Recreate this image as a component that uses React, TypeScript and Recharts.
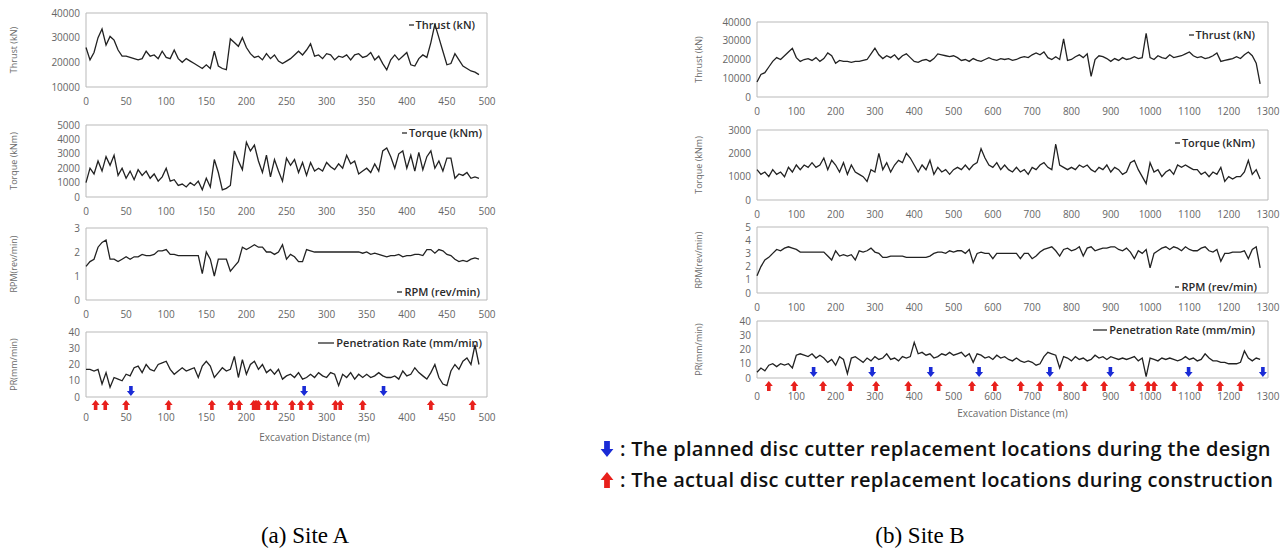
import React from 'react';
import { ComposedChart, Line, XAxis, YAxis, ReferenceArea, Scatter, Legend } from 'recharts';

// ---------------- Site A (0-500 m, sampled every 5 m) ----------------
const distA = Array.from({ length: 99 }, (_, i) => i * 5);
const thrustA = [
  26000, 21000, 24000, 30000, 33500, 27000, 30500, 29000, 25000, 22500,
  22500, 22000, 21500, 21000, 21500, 24500, 22500, 23000, 21500, 24500,
  22000, 21500, 25000, 21500, 20000, 21500, 20500, 19500, 18500, 17500,
  19000, 17500, 24500, 18500, 17500, 17000, 29500, 28000, 26500, 30000,
  26000, 23500, 22000, 22500, 21000, 23500, 21500, 23000, 20500, 19500,
  20500, 21500, 23000, 24500, 23000, 25000, 27500, 22500, 23000, 21500,
  23500, 23000, 21000, 22500, 22000, 23000, 21000, 23000, 23500, 22000,
  22500, 24000, 21000, 22500, 19500, 17000, 21000, 23000, 21000, 22500,
  24000, 19000, 18500, 21500, 23000, 22000, 28000, 35500, 30000, 24500,
  19000, 19500, 23500, 21000, 18500, 17500, 16500, 16000, 15000,
];
const torqueA = [
  1000, 2000, 1600, 2500, 1800, 2800, 2200, 2900, 1500, 2000,
  1300, 1800, 1200, 1900, 1500, 1800, 1300, 1600, 1100, 1400,
  2000, 1100, 1200, 800, 900, 700, 1000, 800, 1100, 500,
  1300, 700, 2600, 1700, 500, 600, 800, 3200, 2500, 1900,
  3800, 3200, 3600, 2500, 1700, 2900, 1400, 2600, 1800, 1100,
  2700, 2200, 2600, 1700, 2400, 1500, 2400, 1800, 2000, 1800,
  2400, 2100, 1900, 2300, 2000, 2900, 2300, 2500, 1600, 1800,
  2000, 1700, 2300, 1800, 3200, 3400, 2800, 2000, 3000, 3200,
  2000, 2900, 1800, 3100, 1900, 2800, 3200, 2000, 2500, 1800,
  2700, 2700, 1300, 1600, 1500, 1700, 1300, 1400, 1300,
];
const rpmA = [
  1.4, 1.6, 1.7, 2.2, 2.4, 2.5, 1.7, 1.7, 1.6, 1.7,
  1.8, 1.7, 1.8, 1.8, 1.9, 1.85, 1.85, 1.9, 2.05, 2.05,
  2.1, 1.9, 1.9, 1.85, 1.85, 1.85, 1.85, 1.85, 1.85, 1.1,
  2.0, 1.7, 1.0, 1.7, 1.7, 1.7, 1.2, 1.4, 1.6, 2.2,
  2.1, 2.2, 2.3, 2.2, 2.2, 2.0, 2.0, 1.9, 2.0, 2.3,
  1.7, 1.9, 1.8, 1.6, 1.6, 2.1, 2.05, 2.0, 2.0, 2.0,
  2.0, 2.0, 2.0, 2.0, 2.0, 2.0, 2.0, 2.0, 2.0, 1.95,
  2.0, 1.9, 1.95, 1.9, 1.85, 1.8, 1.85, 1.85, 1.9, 1.8,
  1.85, 1.85, 1.9, 1.9, 1.85, 2.1, 2.1, 1.95, 2.1, 2.05,
  1.9, 1.85, 1.7, 1.6, 1.65, 1.6, 1.7, 1.75, 1.7,
];
const prA = [
  17, 17, 16, 17, 8, 15, 6, 12, 11, 10,
  14, 13, 18, 19, 15, 20, 17, 16, 20, 21,
  22, 17, 14, 16, 18, 16, 17, 18, 12, 19,
  22, 19, 12, 15, 18, 16, 17, 25, 12, 23,
  14, 20, 22, 17, 20, 15, 17, 14, 17, 11,
  13, 14, 12, 15, 11, 12, 14, 12, 15, 13,
  12, 15, 14, 7, 14, 12, 15, 11, 14, 12,
  14, 12, 13, 15, 13, 12, 12, 13, 11, 16,
  13, 14, 18, 15, 13, 11, 15, 20, 12, 8,
  7, 16, 20, 17, 22, 24, 20, 32, 20,
];
const plannedA = [56, 272, 371];
const actualA = [12, 24, 50, 103, 157, 181, 191, 209, 211, 213, 215, 227, 236, 257, 268, 280, 311, 317, 345, 430, 482];
const ticksA = [0, 50, 100, 150, 200, 250, 300, 350, 400, 450, 500];

// ---------------- Site B (0-1300 m, sampled every 10 m) ----------------
const distB = Array.from({ length: 129 }, (_, i) => i * 10);
const thrustB = [
  8000, 12000, 13000, 16000, 19000, 21000, 20000, 22000, 24000, 26000,
  21000, 19000, 20000, 20500, 19500, 21000, 19000, 20500, 23500, 22000,
  18000, 19500, 19000, 19000, 18500, 19000, 19000, 19500, 20000, 23000,
  26000, 22500, 20500, 22000, 21000, 22500, 20000, 22000, 23000, 21000,
  19000, 18500, 19500, 20000, 19000, 20500, 23000, 22500, 22000, 21500,
  22000, 21000, 19500, 20000, 19000, 20500, 19500, 19000, 20000, 21000,
  20000, 19500, 20500, 20000, 20500, 19500, 20000, 21000, 21500, 21000,
  22500, 23500, 22500, 24000, 21000, 20000, 21500, 20000, 31000, 19500,
  20000, 21500, 22500, 21000, 23000, 11000, 20000, 22000, 21500, 20500,
  19000, 20500, 19500, 21000, 20000, 20500, 21500, 20500, 21000, 34000,
  21000, 20000, 22000, 21000, 20500, 22500, 21000, 21500, 22000, 23000,
  24000, 22000, 21000, 21500, 20500, 21000, 22000, 23500, 19000, 19500,
  20000, 20500, 21500, 20500, 22500, 24000, 22000, 18000, 7000,
];
const torqueB = [
  1300, 1100, 1200, 1000, 1300, 1100, 1200, 1000, 1400, 1200,
  1500, 1300, 1500, 1400, 1600, 1400, 1500, 1800, 1300, 1700,
  1500, 1200, 1600, 1100, 1500, 1200, 1100, 1000, 800, 1300,
  1200, 2000, 1300, 1600, 1200, 1500, 1700, 1600, 2000, 1800,
  1500, 1200, 1500, 1300, 1700, 1100, 1400, 1200, 1300, 1100,
  1300, 1400, 1300, 1500, 1300, 1500, 1600, 2200, 1800, 1500,
  1400, 1600, 1300, 1500, 1300, 1200, 1400, 1200, 1300, 1100,
  1400, 1300, 1500, 1600, 1400, 1300, 2400, 1500, 1400, 1300,
  1400, 1300, 1500, 1400, 1500, 1300, 1200, 1400, 1300, 1500,
  1200, 1400, 1300, 1100, 1200, 1600, 1700, 1300, 1000, 700,
  1600, 1200, 1300, 1000, 1200, 1300, 1100, 1500, 1400, 1500,
  1400, 1300, 1300, 1100, 1200, 1000, 1200, 1100, 1400, 800,
  1000, 900, 1000, 1000, 1200, 1700, 1100, 1300, 900,
];
const rpmB = [
  1.3, 2.0, 2.5, 2.7, 3.0, 3.3, 3.2, 3.4, 3.5, 3.4,
  3.3, 3.1, 3.1, 3.1, 3.1, 3.1, 3.1, 3.1, 2.8, 2.5,
  3.2, 2.8, 2.9, 2.8, 2.9, 2.5, 3.2, 3.1, 3.2, 3.4,
  3.1, 3.0, 2.7, 2.7, 2.8, 2.8, 2.8, 2.8, 2.7, 2.7,
  2.7, 2.7, 2.7, 2.7, 2.8, 3.0, 3.1, 3.1, 3.0, 3.2,
  3.1, 3.2, 3.2, 3.0, 3.3, 2.3, 3.0, 3.1, 3.0, 3.0,
  2.6, 3.0, 3.0, 3.0, 3.0, 3.0, 3.0, 2.6, 3.0, 3.0,
  2.6, 2.8, 3.1, 3.3, 3.4, 3.5, 3.2, 2.8, 3.3, 3.4,
  3.2, 3.3, 3.5, 2.8, 3.4, 3.5, 3.2, 3.3, 3.4, 3.4,
  3.5, 3.5, 3.3, 3.2, 3.4, 3.1, 2.6, 3.2, 3.0, 3.3,
  1.9, 3.0, 3.2, 3.4, 3.5, 3.3, 3.5, 3.4, 3.2, 3.5,
  3.3, 3.2, 3.2, 3.4, 3.5, 3.2, 3.1, 3.3, 2.4, 3.0,
  3.0, 3.1, 3.1, 3.1, 3.2, 2.6, 3.3, 3.5, 1.9,
];
const prB = [
  4, 7, 5, 9, 10, 8, 10, 9, 10, 7,
  16, 17, 16, 15, 17, 14, 16, 14, 11, 13,
  9, 15, 13, 3, 14, 15, 13, 11, 14, 12,
  15, 13, 14, 17, 13, 14, 12, 15, 14, 15,
  25, 17, 18, 16, 17, 14, 15, 17, 16, 18,
  16, 17, 18, 15, 17, 11, 17, 16, 14, 15,
  13, 16, 14, 15, 13, 12, 14, 12, 11, 12,
  11, 9, 10, 15, 18, 17, 16, 7, 15, 14,
  12, 15, 13, 14, 12, 13, 16, 14, 15, 13,
  15, 14, 13, 14, 13, 14, 15, 12, 14, 1,
  14, 13, 12, 14, 13, 14, 13, 12, 13, 15,
  13, 14, 12, 13, 17, 14, 12, 12, 11, 11,
  10, 10, 10, 11, 19, 14, 12, 14, 13,
];
const plannedB = [144, 293, 442, 565, 745, 899, 1098, 1287];
const actualB = [30, 95, 168, 237, 303, 385, 462, 547, 605, 671, 720, 771, 833, 883, 955, 995, 1010, 1061, 1127, 1178, 1230];
const ticksB = [0, 100, 200, 300, 400, 500, 600, 700, 800, 900, 1000, 1100, 1200, 1300];

const TICK_FONT = 'Open Sans, Noto Sans, sans-serif';
const BLUE = '#1a2bd6';
const RED = '#e8201c';

const downArrow = (x: number, y: number, s = 1) =>
  `M${x - 1.8 * s},${y - 5 * s} L${x + 1.8 * s},${y - 5 * s} L${x + 1.8 * s},${y} L${x + 4 * s},${y} L${x},${y + 5 * s} L${x - 4 * s},${y} L${x - 1.8 * s},${y} Z`;
const upArrow = (x: number, y: number, s = 1) =>
  `M${x - 1.8 * s},${y + 5 * s} L${x + 1.8 * s},${y + 5 * s} L${x + 1.8 * s},${y} L${x + 4 * s},${y} L${x},${y - 5 * s} L${x - 4 * s},${y} L${x - 1.8 * s},${y} Z`;

const PlannedShape = (props: any) => <path d={downArrow(props.cx, props.cy - 6)} fill={BLUE} />;
const ActualShape = (props: any) => <path d={upArrow(props.cx, props.cy + 8)} fill={RED} />;

type PanelProps = {
  boxL: number; boxT: number; boxW: number; boxH: number;
  padL: number; padB: number;
  xMax: number; xTicks: number[];
  yDomain: [number, number]; yTicks: number[];
  dist: number[]; values: number[];
  yTitle: string; yTitleX: number;
  legend: string; legendRight: number; legendTop: number; legendLine: number;
  tickMarginX: number;
  planned?: number[]; actual?: number[];
  xTitle?: string; xTitleDy?: number; xTitleDx?: number;
};

function Panel(p: PanelProps) {
  const padT = 10;
  const padR = 16;
  const width = p.padL + p.boxW + padR;
  const height = padT + p.boxH + p.padB;
  const data = p.dist.map((d, i) => ({ d, v: p.values[i] }));
  const yTitle = (lp: any) => {
    const vb = lp.viewBox;
    const cx = vb.x + p.yTitleX;
    const cy = vb.y + vb.height / 2;
    return (
      <text x={cx} y={cy} transform={`rotate(-90 ${cx} ${cy})`} textAnchor="middle" dominantBaseline="middle"
        fontSize={9} fill="#6b6b6b" fontFamily={TICK_FONT}>{p.yTitle}</text>
    );
  };
  const xTitle = (lp: any) => {
    const vb = lp.viewBox;
    return (
      <text x={vb.x + vb.width / 2 + (p.xTitleDx || 0)} y={vb.y + (p.xTitleDy || 0)} textAnchor="middle" dominantBaseline="middle"
        fontSize={10} fill="#6b6b6b" fontFamily={TICK_FONT}>{p.xTitle}</text>
    );
  };
  const legendContent = () => (
    <div style={{ display: 'flex', alignItems: 'center', whiteSpace: 'nowrap', fontFamily: TICK_FONT, fontSize: 11, fontWeight: 600, color: '#2a2a2a' }}>
      <svg width={p.legendLine + 2} height={6} style={{ marginRight: 1 }}>
        <line x1={1} y1={3} x2={p.legendLine + 1} y2={3} stroke="#2a2a2a" strokeWidth={1.3} />
      </svg>
      <span>{p.legend}</span>
    </div>
  );
  return (
    <div style={{ position: 'absolute', left: p.boxL - p.padL, top: p.boxT - padT }}>
      <ComposedChart width={width} height={height} data={data} margin={{ top: padT, right: padR, left: 0, bottom: 0 }}>
        <XAxis type="number" dataKey="d" domain={[0, p.xMax]} ticks={p.xTicks} interval={0}
          axisLine={false} tickLine={false} tickSize={0} tickMargin={p.tickMarginX} height={p.padB}
          tick={{ fontSize: 10, fill: '#666', fontFamily: TICK_FONT }}
          label={p.xTitle ? xTitle : undefined} />
        <YAxis type="number" domain={p.yDomain} ticks={p.yTicks} interval={0} width={p.padL}
          axisLine={false} tickLine={false} tickSize={0} tickMargin={6}
          tick={{ fontSize: 10, fill: '#666', fontFamily: TICK_FONT }}
          label={yTitle} />
        <ReferenceArea x1={0} x2={p.xMax} y1={p.yDomain[0]} y2={p.yDomain[1]} fill="none" fillOpacity={0}
          stroke="#b9b9b9" strokeWidth={1} ifOverflow="visible" />
        <Line type="linear" dataKey="v" stroke="#222" strokeWidth={1.3} dot={false} isAnimationActive={false} />
        {p.planned && (
          <Scatter data={p.planned.map((d) => ({ d, v: p.yDomain[0] }))} dataKey="v" shape={PlannedShape} isAnimationActive={false} />
        )}
        {p.actual && (
          <Scatter data={p.actual.map((d) => ({ d, v: p.yDomain[0] }))} dataKey="v" shape={ActualShape} isAnimationActive={false} />
        )}
        <Legend layout="horizontal" verticalAlign="middle" align="center" content={legendContent}
          wrapperStyle={{ left: 'auto', right: padR + p.legendRight, top: padT + p.legendTop - 8, width: 'auto', height: 'auto' }} />
      </ComposedChart>
    </div>
  );
}

export default function App() {
  const A = { boxL: 86, boxW: 401, padL: 86, yTitleX: 15, xMax: 500, xTicks: ticksA, dist: distA };
  const B = { boxL: 757, boxW: 511, padL: 70, yTitleX: 13, xMax: 1300, xTicks: ticksB, dist: distB };
  const keyText = { fontFamily: 'Open Sans, Noto Sans, sans-serif', fontSize: 20, fontWeight: 600, color: '#111', letterSpacing: 0.3 };
  return (
    <div style={{ position: 'absolute', left: 0, top: 0, width: 1285, height: 554, background: '#fff', overflow: 'hidden' }}>
      {/* Site A */}
      <Panel {...A} boxT={13} boxH={74} padB={26} tickMarginX={11}
        yDomain={[10000, 40000]} yTicks={[10000, 20000, 30000, 40000]} values={thrustA}
        yTitle="Thrust (kN)" legend="Thrust (kN)" legendRight={12} legendTop={12} legendLine={5} />
      <Panel {...A} boxT={125} boxH={72} padB={26} tickMarginX={11}
        yDomain={[0, 5000]} yTicks={[0, 1000, 2000, 3000, 4000, 5000]} values={torqueA}
        yTitle="Torque (kNm)" legend="Torque (kNm)" legendRight={5} legendTop={8} legendLine={5} />
      <Panel {...A} boxT={228} boxH={72} padB={26} tickMarginX={11}
        yDomain={[0, 3]} yTicks={[0, 1, 2, 3]} values={rpmA}
        yTitle="RPM(rev/min)" legend="RPM (rev/min)" legendRight={7} legendTop={64} legendLine={5} />
      <Panel {...A} boxT={332} boxH={65} padB={50} tickMarginX={17}
        yDomain={[0, 40]} yTicks={[0, 10, 20, 30, 40]} values={prA}
        yTitle="PR(mm/min)" legend="Penetration Rate (mm/min)" legendRight={5} legendTop={11} legendLine={16}
        planned={plannedA} actual={actualA} xTitle="Excavation Distance (m)" xTitleDy={41} xTitleDx={28} />

      {/* Site B */}
      <Panel {...B} boxT={22} boxH={75} padB={26} tickMarginX={11}
        yDomain={[0, 40000]} yTicks={[0, 10000, 20000, 30000, 40000]} values={thrustB}
        yTitle="Thrust (kN)" legend="Thrust (kN)" legendRight={13} legendTop={13} legendLine={5} />
      <Panel {...B} boxT={130} boxH={70} padB={26} tickMarginX={11}
        yDomain={[0, 3000]} yTicks={[0, 1000, 2000, 3000]} values={torqueB}
        yTitle="Torque (kNm)" legend="Torque (kNm)" legendRight={13} legendTop={13} legendLine={5} />
      <Panel {...B} boxT={227} boxH={66} padB={26} tickMarginX={11}
        yDomain={[0, 5]} yTicks={[0, 1, 2, 3, 4, 5]} values={rpmB}
        yTitle="RPM(rev/min)" legend="RPM (rev/min)" legendRight={11} legendTop={60} legendLine={4} />
      <Panel {...B} boxT={321} boxH={57} padB={46} tickMarginX={15}
        yDomain={[0, 40]} yTicks={[0, 10, 20, 30, 40]} values={prB}
        yTitle="PR(mm/min)" legend="Penetration Rate (mm/min)" legendRight={13} legendTop={9} legendLine={14}
        planned={plannedB} actual={actualB} xTitle="Excavation Distance (m)" xTitleDy={36} />

      {/* Replacement-location key */}
      <div style={{ position: 'absolute', left: 599, top: 433, whiteSpace: 'nowrap', lineHeight: '31px' }}>
        <div style={{ display: 'flex', alignItems: 'center' }}>
          <svg width={16} height={18} style={{ marginRight: 5 }}><path d={downArrow(8, 9, 1.6)} fill={BLUE} /></svg>
          <span style={keyText}>: The planned disc cutter replacement locations during the design</span>
        </div>
        <div style={{ display: 'flex', alignItems: 'center' }}>
          <svg width={16} height={18} style={{ marginRight: 5 }}><path d={upArrow(8, 9, 1.6)} fill={RED} /></svg>
          <span style={keyText}>: The actual disc cutter replacement locations during construction</span>
        </div>
      </div>

      {/* Captions */}
      <div style={{ position: 'absolute', left: 205, width: 200, top: 523, textAlign: 'center', fontFamily: 'Liberation Serif, Times New Roman, serif', fontSize: 23, color: '#000' }}>(a) Site A</div>
      <div style={{ position: 'absolute', left: 820, width: 200, top: 523, textAlign: 'center', fontFamily: 'Liberation Serif, Times New Roman, serif', fontSize: 23, color: '#000' }}>(b) Site B</div>
    </div>
  );
}
